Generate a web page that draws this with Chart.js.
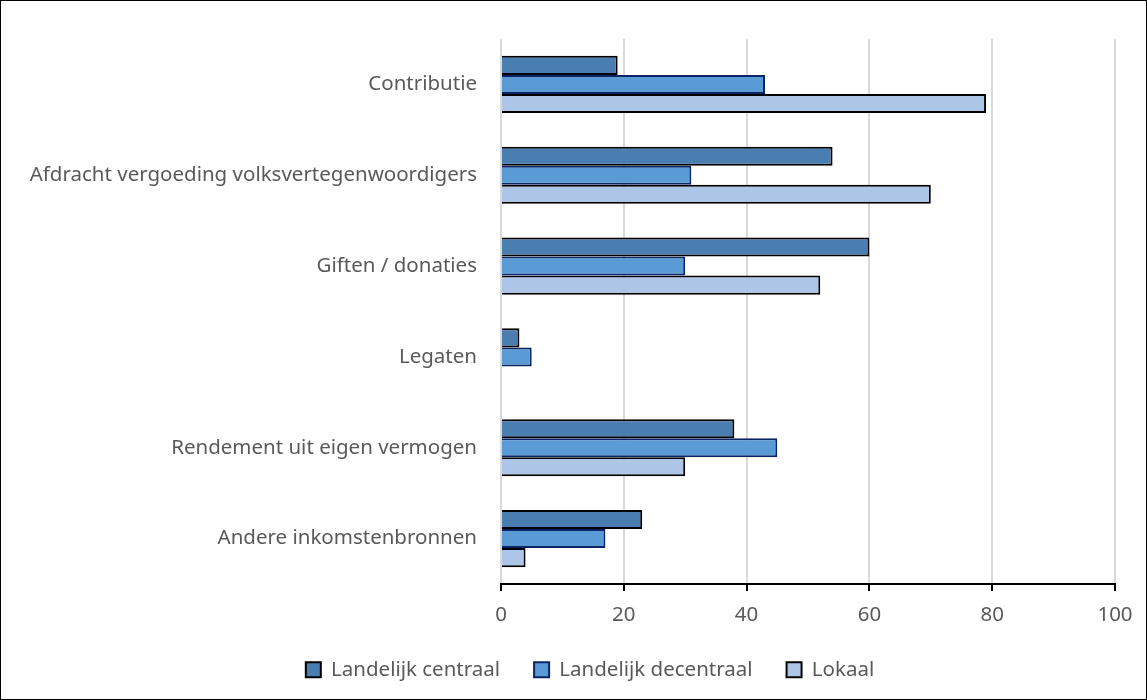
<!DOCTYPE html>
<html>
<head>
<meta charset="utf-8">
<script src="https://cdn.jsdelivr.net/npm/chart.js@4.4.0/dist/chart.umd.min.js"></script>
<style>
  html, body { margin: 0; padding: 0; background: #fff; }
  #wrap { width: 1147px; height: 700px; box-sizing: border-box; border: 1px solid #000; position: relative; }
  canvas { display: block; }
</style>
</head>
<body>
<div id="wrap"><canvas id="barChart" width="1145" height="698"></canvas></div>
<script>
// categorieën en waarden (percentages)
const categories = ['Contributie', 'Afdracht vergoeding volksvertegenwoordigers', 'Giften / donaties', 'Legaten', 'Rendement uit eigen vermogen', 'Andere inkomstenbronnen'];
const landelijkCentraal = [19, 54, 60, 3, 38, 23];
const landelijkDecentraal = [43, 31, 30, 5, 45, 17];
const lokaal = [79, 70, 52, null, 30, 4];
const xTicks = [0, 20, 40, 60, 80, 100];

Chart.defaults.font.family = "'Noto Sans', 'Open Sans', sans-serif";
Chart.defaults.color = '#595959';

// legenda iets hoger maken en wat naar rechts schuiven, zoals in het origineel
const legendFit = {
    id: 'legendFit',
    beforeInit(chart) {
        const legend = chart.legend;
        const origFit = legend.fit;
        legend.fit = function () {
            origFit.call(this);
            this.height += 9;
        };
        const origDraw = legend.draw;
        legend.draw = function (area) {
            const c = this.ctx;
            c.save();
            c.translate(32, 0);
            origDraw.call(this, area);
            c.restore();
        };
    }
};

const ctx = document.getElementById('barChart').getContext('2d');
const barChart = new Chart(ctx, {
    type: 'bar',
    data: {
        labels: categories,
        datasets: [{
            label: 'Landelijk centraal',
            data: landelijkCentraal,
            backgroundColor: '#4a7db0',
            borderColor: '#000000',
            borderWidth: 2
        }, {
            label: 'Landelijk decentraal',
            data: landelijkDecentraal,
            backgroundColor: '#5b9bd5',
            borderColor: '#0a2466',
            borderWidth: 2
        }, {
            label: 'Lokaal',
            data: lokaal,
            backgroundColor: '#adc6e7',
            borderColor: '#000000',
            borderWidth: 2
        }]
    },
    options: {
        indexAxis: 'y',
        responsive: false,
        animation: false,
        layout: { padding: { top: 38, right: 31, left: 0, bottom: 0 } },
        datasets: { bar: { categoryPercentage: 0.63, barPercentage: 1 } },
        scales: {
            x: {
                min: 0,
                max: 100,
                afterBuildTicks: (scale) => { scale.ticks = xTicks.map(v => ({ value: v })); },
                afterFit: (scale) => { scale.height = 41.5; },
                grid: { color: '#d9d9d9', lineWidth: 2, tickLength: 7, tickColor: '#000000', tickWidth: 2 },
                border: { display: true, color: '#000000', width: 2 },
                ticks: { font: { size: 20.5 }, padding: 12, color: '#595959' }
            },
            y: {
                afterFit: (scale) => { scale.width = 500; },
                grid: { display: false },
                border: { display: false },
                ticks: { font: { size: 20.5 }, padding: 16, color: '#595959' }
            }
        },
        plugins: {
            legend: {
                position: 'bottom',
                labels: {
                    boxWidth: 15,
                    boxHeight: 15,
                    padding: 34,
                    font: { size: 20.5 },
                    color: '#595959'
                }
            },
            tooltip: { enabled: false }
        }
    },
    plugins: [legendFit]
});
</script>
</body>
</html>
